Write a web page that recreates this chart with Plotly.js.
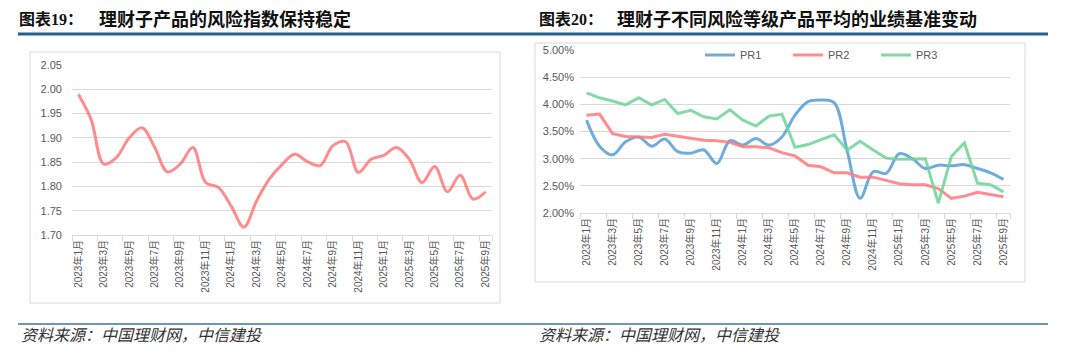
<!DOCTYPE html>
<html><head><meta charset="utf-8">
<script src="https://cdn.plot.ly/plotly-3.0.1.min.js"></script>
<style>html,body{margin:0;padding:0;background:#fff}</style>
</head><body><div id="chart" style="width:1080px;height:359px"></div>
<script>
const months = ["2023年1月","2023年2月","2023年3月","2023年4月","2023年5月","2023年6月","2023年7月","2023年8月","2023年9月","2023年10月","2023年11月","2023年12月",
"2024年1月","2024年2月","2024年3月","2024年4月","2024年5月","2024年6月","2024年7月","2024年8月","2024年9月","2024年10月","2024年11月","2024年12月",
"2025年1月","2025年2月","2025年3月","2025年4月","2025年5月","2025年6月","2025年7月","2025年8月","2025年9月"];
const tickLabels = ["2023年1月","2023年3月","2023年5月","2023年7月","2023年9月","2023年11月","2024年1月","2024年3月","2024年5月","2024年7月","2024年9月","2024年11月","2025年1月","2025年3月","2025年5月","2025年7月","2025年9月"];
const riskIndex = [1.990,1.938,1.846,1.860,1.900,1.921,1.880,1.830,1.846,1.880,1.808,1.798,1.760,1.716,1.770,1.815,1.845,1.866,1.851,1.843,1.884,1.892,1.829,1.856,1.864,1.880,1.856,1.808,1.841,1.789,1.823,1.774,1.789];
const pr1 = [3.71,3.23,3.07,3.31,3.40,3.23,3.36,3.13,3.10,3.16,2.91,3.33,3.25,3.37,3.25,3.40,3.80,4.05,4.08,4.03,3.15,2.27,2.76,2.73,3.09,3.00,2.82,2.88,2.87,2.89,2.82,2.74,2.62];
const pr2 = [3.80,3.82,3.46,3.41,3.40,3.39,3.45,3.41,3.37,3.34,3.33,3.30,3.22,3.22,3.20,3.11,3.05,2.88,2.85,2.74,2.74,2.66,2.66,2.60,2.54,2.52,2.52,2.45,2.27,2.31,2.38,2.34,2.30];
const pr3 = [4.21,4.12,4.06,3.99,4.12,3.99,4.09,3.83,3.89,3.77,3.73,3.90,3.71,3.60,3.78,3.82,3.21,3.26,3.35,3.44,3.16,3.32,3.16,3.01,2.99,3.00,3.00,2.18,3.04,3.29,2.55,2.52,2.39];
const seriesNames = ["PR1","PR2","PR3"];

const W = 1080, H = 359;
const px = x => x / W, py = y => 1 - y / H;
const FONT = "Liberation Sans, Arial, Noto Sans CJK SC, sans-serif";
const GRID = "#d9d9d9", TXT = "#595959";

const traces = [
  {x: months, y: riskIndex, type: "scatter", mode: "lines", line: {color: "rgba(255,120,120,0.85)", width: 3, shape: "spline"}, xaxis: "x", yaxis: "y", showlegend: false, hoverinfo: "skip"},
  {x: months, y: pr1, name: seriesNames[0], type: "scatter", mode: "lines", line: {color: "rgba(85,158,216,0.85)", width: 3, shape: "spline"}, xaxis: "x2", yaxis: "y2"},
  {x: months, y: pr2, name: seriesNames[1], type: "scatter", mode: "lines", line: {color: "rgba(255,120,124,0.85)", width: 3}, xaxis: "x2", yaxis: "y2"},
  {x: months, y: pr3, name: seriesNames[2], type: "scatter", mode: "lines", line: {color: "rgba(110,212,150,0.85)", width: 3}, xaxis: "x2", yaxis: "y2"}
];

const xcommon = {type: "category", categoryorder: "array", categoryarray: months, range: [-0.5, months.length - 0.5],
  tickmode: "array", tickvals: tickLabels, ticktext: tickLabels, tickangle: -90,
  tickfont: {family: FONT, size: 10, color: TXT}, showgrid: false, showline: true, linecolor: GRID, linewidth: 1,
  ticks: "outside", tickson: "boundaries", ticklen: 5, tickcolor: GRID, zeroline: false, fixedrange: true};
const ycommon = {showgrid: true, gridcolor: GRID, gridwidth: 1, zeroline: false, showline: false, ticks: "",
  tickfont: {family: FONT, size: 11, color: TXT}, fixedrange: true};

const layout = {
  width: W, height: H, margin: {l: 0, r: 0, t: 0, b: 0},
  paper_bgcolor: "#fff", plot_bgcolor: "rgba(0,0,0,0)",
  font: {family: FONT, color: TXT},
  xaxis: Object.assign({}, xcommon, {domain: [px(72), px(492)], anchor: "y"}),
  yaxis: Object.assign({}, ycommon, {domain: [py(235), py(65)], anchor: "x", range: [1.70, 2.05], dtick: 0.05, tick0: 1.70, tickformat: ".2f", ticklabelstandoff: 9}),
  xaxis2: Object.assign({}, xcommon, {domain: [px(580), px(1010)], anchor: "y2"}),
  yaxis2: Object.assign({}, ycommon, {domain: [py(213), py(50)], anchor: "x2", range: [2, 5], dtick: 0.5, tick0: 2, tickformat: ".2f", ticksuffix: "%", ticklabelstandoff: 5}),
  showlegend: true,
  legend: {orientation: "h", x: px(700), y: py(55), xanchor: "left", yanchor: "middle", bgcolor: "rgba(0,0,0,0)",
    font: {family: FONT, size: 11, color: TXT}, entrywidth: 43, entrywidthmode: "pixels", itemwidth: 30, tracegroupgap: 0},
  shapes: [
    {type: "line", xref: "paper", yref: "paper", x0: px(18), x1: px(1048), y0: py(34), y1: py(34), line: {color: "#24608F", width: 3}},
    {type: "line", xref: "paper", yref: "paper", x0: px(18), x1: px(1048), y0: py(324), y1: py(324), line: {color: "#3C729E", width: 1.5}},
    {type: "rect", xref: "paper", yref: "paper", x0: px(30), x1: px(500), y0: py(303), y1: py(52), line: {color: GRID, width: 1}, layer: "below"},
    {type: "rect", xref: "paper", yref: "paper", x0: px(535), x1: px(1025), y0: py(282), y1: py(43), line: {color: GRID, width: 1}, layer: "below"}
  ],
  annotations: [
    {xref: "paper", yref: "paper", x: px(17), y: py(18), xanchor: "left", yanchor: "middle", showarrow: false,
     text: "<b>图表</b><span style=\"font-family:Liberation Serif\"><b>19</b></span><b>：</b>", font: {family: "Noto Sans CJK SC", size: 16, color: "#111"}},
    {xref: "paper", yref: "paper", x: px(97), y: py(18), xanchor: "left", yanchor: "middle", showarrow: false,
     text: "<b>理财子产品的风险指数保持稳定</b>", font: {family: "Noto Sans CJK SC", size: 18, color: "#111"}},
    {xref: "paper", yref: "paper", x: px(537), y: py(18), xanchor: "left", yanchor: "middle", showarrow: false,
     text: "<b>图表</b><span style=\"font-family:Liberation Serif\"><b>20</b></span><b>：</b>", font: {family: "Noto Sans CJK SC", size: 16, color: "#111"}},
    {xref: "paper", yref: "paper", x: px(615), y: py(18), xanchor: "left", yanchor: "middle", showarrow: false,
     text: "<b>理财子不同风险等级产品平均的业绩基准变动</b>", font: {family: "Noto Sans CJK SC", size: 18, color: "#111"}},
    {xref: "paper", yref: "paper", x: px(19), y: py(334), xanchor: "left", yanchor: "middle", showarrow: false,
     text: "<i>资料来源：中国理财网，中信建投</i>", font: {family: "Noto Sans CJK SC", size: 16, color: "#333"}},
    {xref: "paper", yref: "paper", x: px(537), y: py(334), xanchor: "left", yanchor: "middle", showarrow: false,
     text: "<i>资料来源：中国理财网，中信建投</i>", font: {family: "Noto Sans CJK SC", size: 16, color: "#333"}}
  ]
};

Plotly.newPlot("chart", traces, layout, {staticPlot: true, displayModeBar: false});
</script></body></html>
